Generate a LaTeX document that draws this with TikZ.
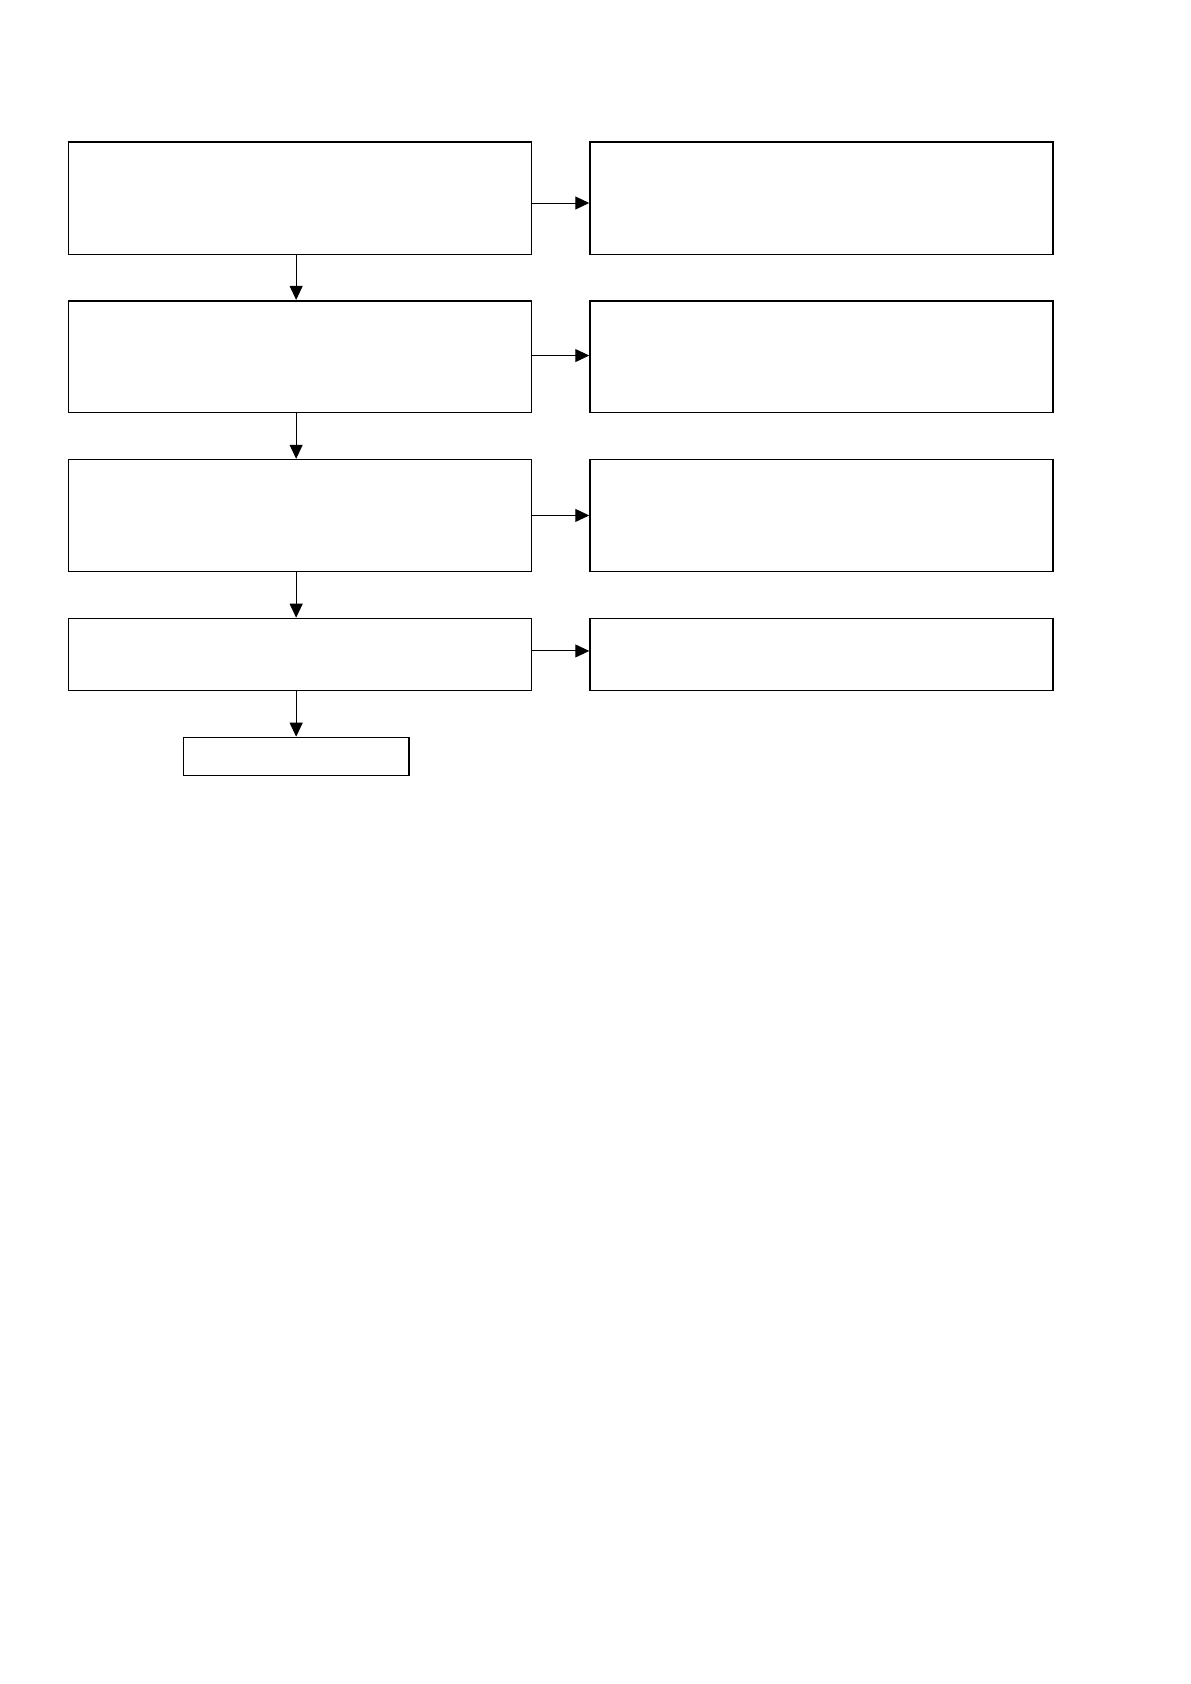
\documentclass[tikz,border=0pt]{standalone}
\usetikzlibrary{arrows.meta}
\begin{document}
\begin{tikzpicture}[x=1pt,y=-1pt,
  box/.style={draw,rectangle,inner sep=0pt,line width=1.6pt,minimum width=#1},
  box/.default=463pt,
  conn/.style={line width=1pt,-{Triangle[length=14pt,width=13pt]}}]
\useasboundingbox[fill=white] (0,0) rectangle (1191,1684);
\node[box,minimum height=112.7pt] (L1) at (300.15,198.15) {};
\node[box,minimum height=112.7pt] (R1) at (821.55,198.15) {};
\node[box,minimum height=111.7pt] (L2) at (300.15,356.55) {};
\node[box,minimum height=111.7pt] (R2) at (821.55,356.55) {};
\node[box,minimum height=111.7pt] (L3) at (300.15,515.45) {};
\node[box,minimum height=111.7pt] (R3) at (821.55,515.45) {};
\node[box,minimum height=71.9pt] (L4) at (300.15,654.45) {};
\node[box,minimum height=71.9pt] (R4) at (821.55,654.45) {};
\node[box=225.3pt,minimum height=38pt] (F) at (296.15,756.5) {};
\draw[conn] ([yshift=-4.85pt]L1.east) -- ([yshift=-4.85pt]R1.west);
\draw[conn] ([yshift=1pt]L2.east) -- ([yshift=1pt]R2.west);
\draw[conn] (L3.east) -- (R3.west);
\draw[conn] ([yshift=3.5pt]L4.east) -- ([yshift=3.5pt]R4.west);
\draw[conn] ([xshift=-4pt]L1.south) -- ([xshift=-4pt]L2.north);
\draw[conn] ([xshift=-4pt]L2.south) -- ([xshift=-4pt]L3.north);
\draw[conn] ([xshift=-4pt]L3.south) -- ([xshift=-4pt]L4.north);
\draw[conn] (F.north |- L4.south) -- (F.north);
\end{tikzpicture}
\end{document}
